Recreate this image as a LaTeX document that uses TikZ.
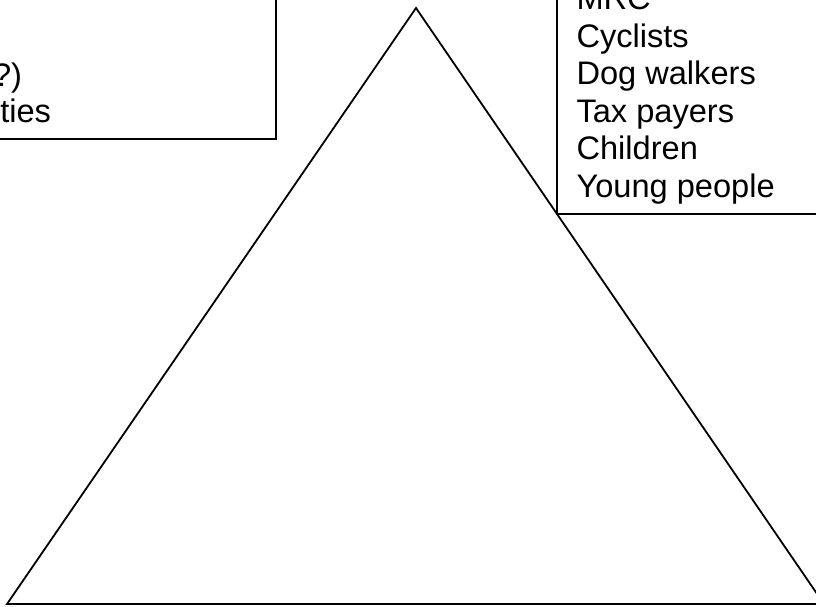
\documentclass[tikz,border=0pt]{standalone}
\usepackage{fontspec}
\setmainfont{Liberation Sans}
\begin{document}
\begin{tikzpicture}[x=1pt,y=-1pt,
  boxline/.style={draw=black,line width=2.2pt},
  boxlinethin/.style={draw=black,line width=1.7pt},
  triline/.style={draw=black,line width=1.8pt,line join=miter},
  lbl/.style={inner sep=0pt,outer sep=0pt,anchor=base west,font=\fontsize{32.6}{37.5}\selectfont,text=black},
  lblr/.style={lbl,anchor=base east}]
\useasboundingbox (0,0) rectangle (816,606);
\fill[white] (0,0) rectangle (816,606);
% left box (cut off by the picture edge)
\draw[boxline] (-10,-10) rectangle (276,139);
\node[lblr] (l1) at (22,86) {?)};
\node[lblr] (l2) at (51,122) {ties};
% right box (cut off by the picture edge)
\draw[boxlinethin] (557.3,-10) rectangle (840,214.3);
\node[lbl] (r1) at (576.5,9.7) {MRC};
\node[lbl] (r2) at (576.5,47.2) {Cyclists};
\node[lbl] (r3) at (576.5,84.7) {Dog walkers};
\node[lbl] (r4) at (576.5,122.2) {Tax payers};
\node[lbl] (r5) at (576.5,159.7) {Children};
\node[lbl] (r6) at (576.5,197.2) {Young people};
% triangle
\coordinate (apex) at (416,8);
\coordinate (bl) at (7,604);
\coordinate (br) at (824,604);
\draw[triline] (bl) -- (apex) -- (br) -- cycle;
\end{tikzpicture}
\end{document}
